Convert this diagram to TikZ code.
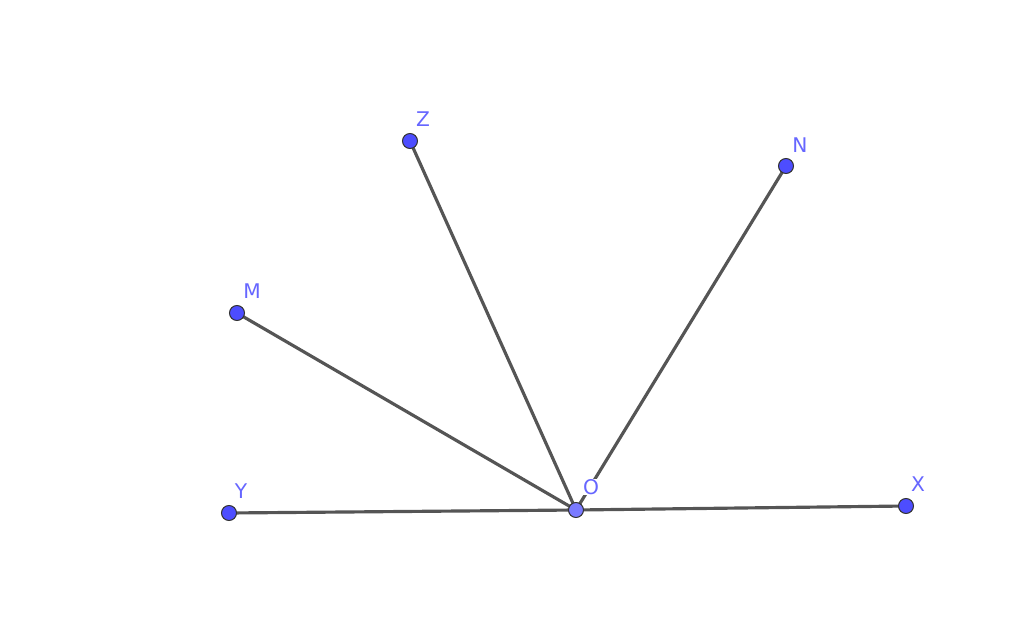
\documentclass[tikz,border=0pt]{standalone}
\usepackage{fontspec}
\setmainfont{DejaVu Sans}
\usepackage{xcolor}
\usepackage{tikz}
\usetikzlibrary{positioning,calc}
\definecolor{ptblue}{HTML}{4D4DFF}
\definecolor{ptlight}{HTML}{7A7AFF}
\definecolor{lblblue}{HTML}{6666FF}
\definecolor{segray}{HTML}{555555}

\begin{document}
\begin{tikzpicture}[x=0.02cm,y=-0.02cm,
    seg/.style={draw=segray, line width=1.8pt},
    pt/.style={circle, fill=ptblue, draw=black!80, line width=0.6pt, minimum size=0.3cm, inner sep=0pt},
    lbl/.style={text=lblblue, font=\fontsize{11.5}{13}\selectfont, inner sep=1pt}]
    \useasboundingbox (0,0) rectangle (1024,638);
    \coordinate (O) at (576,510);
    \coordinate (X) at (906,506);
    \coordinate (Y) at (229,513);
    \coordinate (M) at (237,313);
    \coordinate (Z) at (410,141);
    \coordinate (N) at (786,166);
    \draw[seg] (Y) -- (O) -- (X);
    \draw[seg] (M) -- (O);
    \draw[seg] (Z) -- (O);
    \draw[seg] (N) -- (O);
    \node[lbl, fill=white, inner sep=0.3pt] (lO) at (591,487) {O};
    \node[lbl] (lX) at (918,484) {X};
    \node[lbl] (lY) at (241,491) {Y};
    \node[lbl] (lM) at (252,291) {M};
    \node[lbl] (lZ) at (423,119) {Z};
    \node[lbl] (lN) at (800,145) {N};
    \foreach \p in {X,Y,M,Z,N}
        \node[pt] at (\p) {};
    \node[pt, fill=ptlight] at (O) {};
\end{tikzpicture}
\end{document}
